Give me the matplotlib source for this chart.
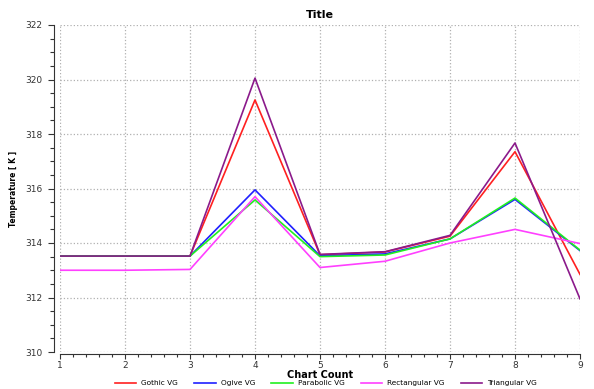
import matplotlib
matplotlib.use("Agg")
import matplotlib.pyplot as plt
from matplotlib.ticker import MultipleLocator

chart_count = [1, 2, 3, 4, 5, 6, 7, 8, 9]
gothic = [313.52, 313.52, 313.52, 319.25, 313.57, 313.67, 314.25, 317.35, 312.85]
ogive = [313.52, 313.52, 313.52, 315.95, 313.53, 313.6, 314.15, 315.6, 313.72]
parabolic = [313.52, 313.52, 313.52, 315.58, 313.5, 313.56, 314.15, 315.65, 313.74]
rectangular = [313.0, 313.0, 313.03, 315.7, 313.1, 313.33, 314.0, 314.5, 313.98]
triangular = [313.52, 313.52, 313.52, 320.05, 313.58, 313.68, 314.28, 317.67, 311.95]

series = [
    ("Gothic VG", gothic, "#ff2020"),
    ("Ogive VG", ogive, "#2020ff"),
    ("Parabolic VG", parabolic, "#20f020"),
    ("Rectangular VG", rectangular, "#ff40ff"),
    ("Triangular VG", triangular, "#8b1a8b"),
]

W, H = 594, 389
fig = plt.figure(figsize=(W / 100, H / 100), dpi=100)
# data area: x 60..580 px, y 25..352 px
ax = fig.add_axes([60 / W, (H - 352) / H, 520 / W, 327 / H])

for name, vals, col in series:
    ax.plot(chart_count, vals, color=col, lw=1.2, label=name)

ax.set_xlim(1, 9)
ax.set_ylim(310, 322)
ax.xaxis.set_major_locator(MultipleLocator(1))
ax.xaxis.set_minor_locator(MultipleLocator(0.2))
ax.yaxis.set_major_locator(MultipleLocator(2))
ax.yaxis.set_minor_locator(MultipleLocator(0.5))
ax.grid(True, which="major", color="#b0b0b0", linestyle=":", lw=0.9)

for s in ["top", "right"]:
    ax.spines[s].set_visible(False)
ax.spines["left"].set_position(("outward", 4.5))
ax.spines["bottom"].set_position(("outward", 1.5))
for s in ["left", "bottom"]:
    ax.spines[s].set_color("#333333")
ax.tick_params(axis="y", which="major", length=4.5, width=0.8, pad=3.5)
ax.tick_params(axis="y", which="minor", length=3, width=0.8)
ax.tick_params(axis="x", which="major", length=3.5, width=0.8, pad=1.5)
ax.tick_params(axis="x", which="minor", length=2.5, width=0.8)
ax.tick_params(which="both", labelsize=6.5, colors="#333333")

ax.set_title("Title", fontsize=8, fontweight="bold", pad=5)
ax.set_xlabel("Chart Count", fontsize=7, fontweight="bold", labelpad=0)
ax.set_ylabel("Temperature [ K ]", fontsize=5.5, fontweight="bold", labelpad=5)

fig.legend(loc="center", bbox_to_anchor=(326 / W, 6 / H), ncol=5, frameon=False,
           fontsize=5.3, handlelength=2.9, columnspacing=2.2, handletextpad=0.7,
           borderpad=0, borderaxespad=0)

fig.savefig("out.png", dpi=100)
